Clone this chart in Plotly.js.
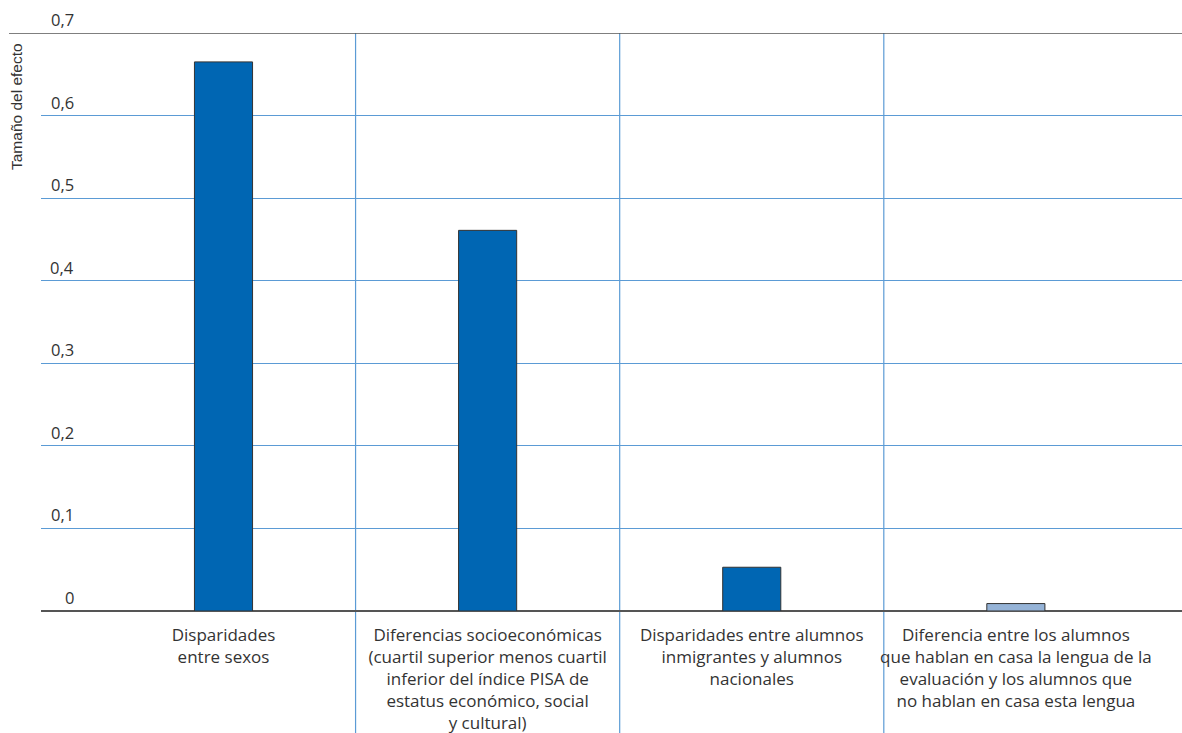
<!DOCTYPE html>
<html>
<head>
<meta charset="utf-8">
<script src="https://cdn.plot.ly/plotly-3.0.1.min.js"></script>
<style>html,body{margin:0;padding:0;background:#fff;}#chart{width:1182px;height:733px;}</style>
</head>
<body>
<div id="chart"></div>
<script>
// Data
const categories = [
  "Disparidades<br>entre sexos",
  "Diferencias socioeconómicas<br>(cuartil superior menos cuartil<br>inferior del índice PISA de<br>estatus económico, social<br>y cultural)",
  "Disparidades entre alumnos<br>inmigrantes y alumnos<br>nacionales",
  "Diferencia entre los alumnos<br>que hablan en casa la lengua de la<br>evaluación y los alumnos que<br>no hablan en casa esta lengua"
];
const effectSize = [0.665, 0.461, 0.053, 0.009];
const significant = [true, true, true, false];
const tickVals = [0, 0.1, 0.2, 0.3, 0.4, 0.5, 0.6, 0.7];
const tickLabels = ["0", "0,1", "0,2", "0,3", "0,4", "0,5", "0,6", "0,7"];
const yTitle = "Tamaño del efecto";

const W = 1182, H = 733;
const mL = 41, mR = 0, mT = 33, mB = 122;
const plotW = W - mL - mR, plotH = H - mT - mB;
const gridBlue = "#5b9bd5";
const axisGray = "#555555";
const textColor = "#333333";
const fontFam = "'Open Sans', Lato, sans-serif";

const barColors = significant.map(s => s ? "#0066b3" : "#95b3d7");

const trace = {
  type: "bar",
  x: categories,
  y: effectSize,
  width: 0.22,
  marker: {color: barColors, line: {color: "#333333", width: 1}},
  hoverinfo: "x+y"
};

const shapes = [];
// separators between categories
for (let i = 0; i < categories.length - 1; i++) {
  shapes.push({type: "line", xref: "x", yref: "paper",
    x0: i + 0.5, x1: i + 0.5, y0: -mB / plotH, y1: 1,
    line: {color: gridBlue, width: 1.2}, layer: "below"});
}
// top line (max tick)
shapes.push({type: "line", xref: "paper", yref: "y",
  x0: (9 - mL) / plotW, x1: 1, y0: tickVals[tickVals.length - 1], y1: tickVals[tickVals.length - 1],
  line: {color: axisGray, width: 1.5}});

const annotations = tickVals.map((v, i) => ({
  xref: "paper", yref: "y", x: (76 - mL) / plotW, y: v,
  xanchor: "right", yanchor: "bottom", yshift: 0,
  text: tickLabels[i], showarrow: false,
  font: {family: fontFam, size: 16.5, color: textColor}
}));
annotations.push({
  xref: "paper", yref: "paper", x: (17 - mL) / plotW, y: 1 - (107 - mT) / plotH,
  xanchor: "center", yanchor: "middle", textangle: -90,
  text: yTitle, showarrow: false,
  font: {family: "'Liberation Sans', Arial, sans-serif", size: 15.5, color: textColor}
});

const layout = {
  width: W, height: H,
  margin: {l: mL, r: mR, t: mT, b: mB, pad: 0},
  paper_bgcolor: "#ffffff", plot_bgcolor: "#ffffff",
  showlegend: false,
  bargap: 0,
  xaxis: {
    type: "category",
    range: [-0.691, 3.629],
    showgrid: false, zeroline: false, showline: false,
    ticks: "", ticklabelstandoff: 12,
    tickfont: {family: fontFam, size: 17, color: textColor}
  },
  yaxis: {
    range: [0, 0.7],
    tickvals: tickVals,
    showticklabels: false,
    showgrid: true, gridcolor: gridBlue, gridwidth: 1,
    zeroline: true, zerolinecolor: axisGray, zerolinewidth: 1.5,
    showline: false, ticks: ""
  },
  shapes: shapes,
  annotations: annotations
};

Plotly.newPlot("chart", [trace], layout, {displayModeBar: false, staticPlot: true});
</script>
</body>
</html>
